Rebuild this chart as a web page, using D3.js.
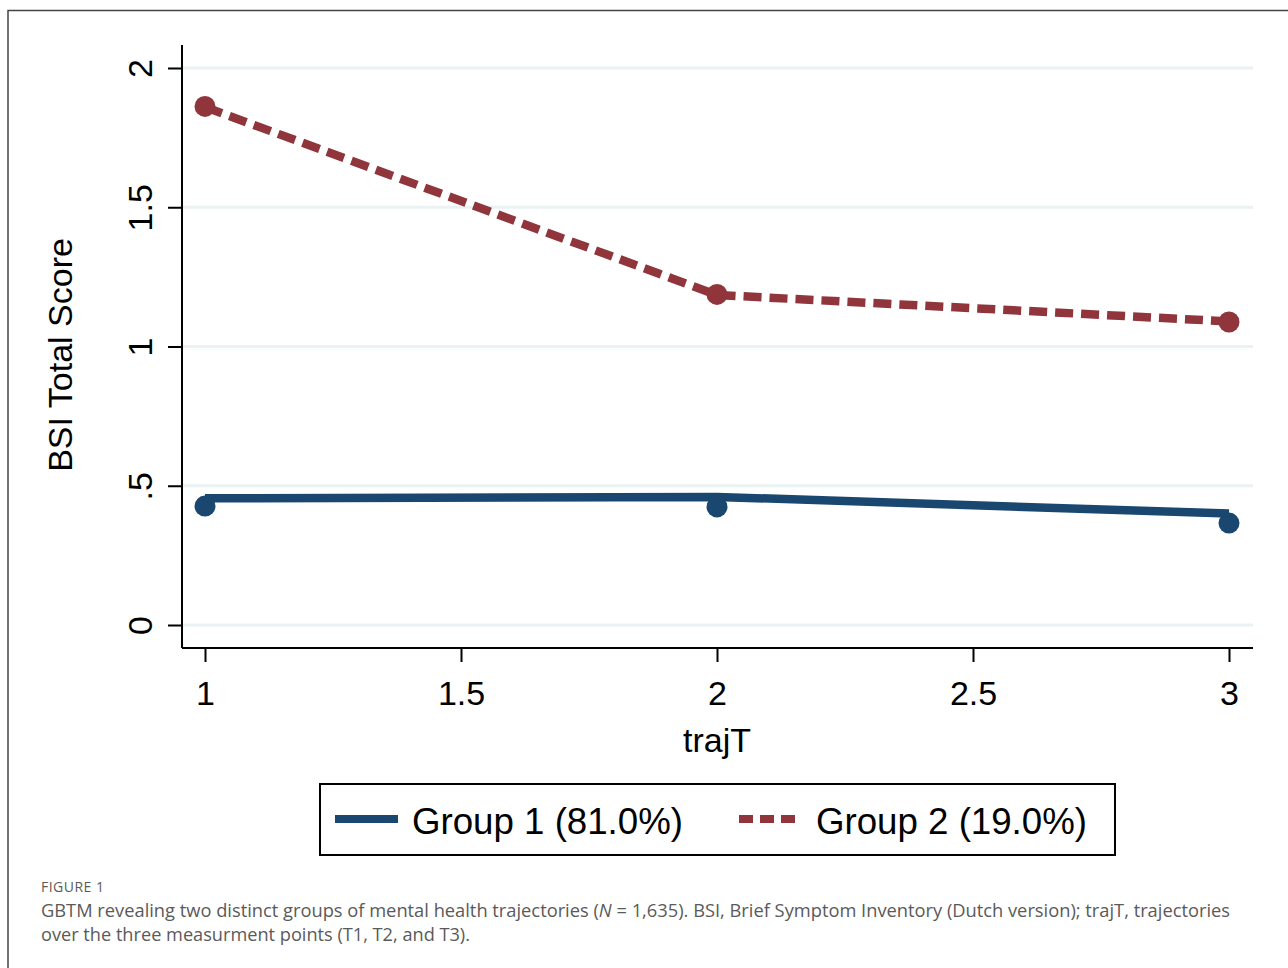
<!DOCTYPE html>
<html>
<head>
<meta charset="utf-8">
<script src="https://cdn.jsdelivr.net/npm/d3@7"></script>
<style>
  html, body { margin: 0; padding: 0; background: #fff; }
  #figure { width: 1288px; height: 968px; }
  text { font-family: "Liberation Sans", Arial, sans-serif; fill: #000; }
  .caption text { font-family: "Open Sans", "Noto Sans", sans-serif; fill: #5a5a5a; }
</style>
</head>
<body>
<div id="figure"></div>
<script>
// trajectory points T1..T3
const traj_t = [1, 2, 3];
// group 1: fitted line and observed means
const g1_fit = [0.455, 0.46, 0.40];
const g1_obs = [0.427, 0.424, 0.366];
// group 2: fitted line and observed means
const g2_fit = [1.86, 1.185, 1.09];
const g2_obs = [1.862, 1.187, 1.088];
const x_ticks = [1, 1.5, 2, 2.5, 3];
const x_tick_labels = ["1", "1.5", "2", "2.5", "3"];
const y_ticks = [0, 0.5, 1, 1.5, 2];
const y_tick_labels = ["0", ".5", "1", "1.5", "2"];
const legend_labels = ["Group 1 (81.0%)", "Group 2 (19.0%)"];

document.addEventListener("DOMContentLoaded", ()=>{
  const W = 1288, H = 968;
  const navy = "#1a476f", maroon = "#90353b";

  const svg = d3.select("#figure").append("svg")
                .attr("width", W)
                .attr("height", H);

  // outer frame (open on right / bottom, cropped)
  svg.append("path")
     .attr("d", "M8,968 V10.5 H1288")
     .attr("fill", "none")
     .attr("stroke", "#444")
     .attr("stroke-width", 1.5);

  const x_scale = d3.scaleLinear().domain([1, 3]).range([205, 1229]);
  const y_scale = d3.scaleLinear().domain([0, 2]).range([625, 68]);
  const plot_left = 182, plot_right = 1253, plot_bottom = 648, plot_top = 45;

  // grid lines
  svg.append("g")
     .selectAll("line")
     .data(y_ticks)
     .join("line")
     .attr("x1", plot_left)
     .attr("x2", plot_right)
     .attr("y1", d => y_scale(d))
     .attr("y2", d => y_scale(d))
     .attr("stroke", "#eaf2f3")
     .attr("stroke-width", 3);

  // y axis
  const y_axis = svg.append("g")
     .attr("transform", "translate(" + plot_left + ",0)")
     .call(d3.axisLeft(y_scale).tickValues(y_ticks).tickSize(14).tickSizeOuter(0)
             .tickFormat((d,i) => y_tick_labels[i]));
  y_axis.select(".domain").attr("d", "M0," + plot_top + "V" + plot_bottom)
        .attr("stroke", "#000").attr("stroke-width", 2);
  y_axis.selectAll(".tick line").attr("stroke", "#000").attr("stroke-width", 2);
  y_axis.selectAll(".tick text")
        .attr("x", null).attr("dy", null)
        .attr("font-size", 34)
        .attr("text-anchor", "middle")
        .attr("transform", "translate(-30,0) rotate(-90)");

  // x axis
  const x_axis = svg.append("g")
     .attr("transform", "translate(0," + plot_bottom + ")")
     .call(d3.axisBottom(x_scale).tickValues(x_ticks).tickSize(14).tickSizeOuter(0)
             .tickFormat((d,i) => x_tick_labels[i]));
  x_axis.select(".domain").attr("d", "M" + plot_left + ",0H" + plot_right)
        .attr("stroke", "#000").attr("stroke-width", 2);
  x_axis.selectAll(".tick line").attr("stroke", "#000").attr("stroke-width", 2);
  x_axis.selectAll(".tick text")
        .attr("y", 57).attr("dy", null)
        .attr("font-size", 34);

  // axis titles
  svg.append("text")
     .attr("transform", "translate(72,355) rotate(-90)")
     .attr("text-anchor", "middle")
     .attr("font-size", 34)
     .text("BSI Total Score");
  svg.append("text")
     .attr("x", 717).attr("y", 752)
     .attr("text-anchor", "middle")
     .attr("font-size", 34)
     .text("trajT");

  const line = d3.line()
                 .x((d,i) => x_scale(traj_t[i]))
                 .y(d => y_scale(d));

  // group 1
  svg.append("path").datum(g1_fit)
     .attr("d", line).attr("fill", "none")
     .attr("stroke", navy).attr("stroke-width", 8.5);
  svg.append("g").selectAll("circle").data(g1_obs).join("circle")
     .attr("cx", (d,i) => x_scale(traj_t[i]))
     .attr("cy", d => y_scale(d))
     .attr("r", 10.5).attr("fill", navy);

  // group 2
  svg.append("path").datum(g2_fit)
     .attr("d", line).attr("fill", "none")
     .attr("stroke", maroon).attr("stroke-width", 8.5)
     .attr("stroke-dasharray", "18,8");
  svg.append("g").selectAll("circle").data(g2_obs).join("circle")
     .attr("cx", (d,i) => x_scale(traj_t[i]))
     .attr("cy", d => y_scale(d))
     .attr("r", 10.5).attr("fill", maroon);

  // legend
  const legend = svg.append("g");
  legend.append("rect")
        .attr("x", 320).attr("y", 784).attr("width", 795).attr("height", 71)
        .attr("fill", "#fff").attr("stroke", "#000").attr("stroke-width", 2);
  const leg_x = [335, 739];
  const leg_color = [navy, maroon];
  const leg_dash = [null, "14,7"];
  legend.selectAll("line").data(legend_labels).join("line")
        .attr("x1", (d,i) => leg_x[i]).attr("x2", (d,i) => leg_x[i] + 63)
        .attr("y1", 819).attr("y2", 819)
        .attr("stroke", (d,i) => leg_color[i]).attr("stroke-width", 8)
        .attr("stroke-dasharray", (d,i) => leg_dash[i]);
  legend.selectAll("text").data(legend_labels).join("text")
        .attr("x", (d,i) => leg_x[i] + 77).attr("y", 834)
        .attr("font-size", 37)
        .attr("textLength", 271)
        .attr("lengthAdjust", "spacingAndGlyphs")
        .text(d => d);

  // caption
  const cap = svg.append("g").attr("class", "caption");
  cap.append("text").attr("x", 41).attr("y", 892)
     .attr("font-size", 14).attr("textLength", 63)
     .text("FIGURE 1");
  const l1 = cap.append("text").attr("x", 41).attr("y", 917)
     .attr("font-size", 18).attr("textLength", 1189).attr("lengthAdjust", "spacingAndGlyphs");
  l1.append("tspan").text("GBTM revealing two distinct groups of mental health trajectories (");
  l1.append("tspan").attr("font-style", "italic").text("N");
  l1.append("tspan").text(" = 1,635). BSI, Brief Symptom Inventory (Dutch version); trajT, trajectories");
  cap.append("text").attr("x", 41).attr("y", 941).attr("font-size", 18)
     .attr("textLength", 429).attr("lengthAdjust", "spacingAndGlyphs")
     .text("over the three measurment points (T1, T2, and T3).");
});
</script>
</body>
</html>
